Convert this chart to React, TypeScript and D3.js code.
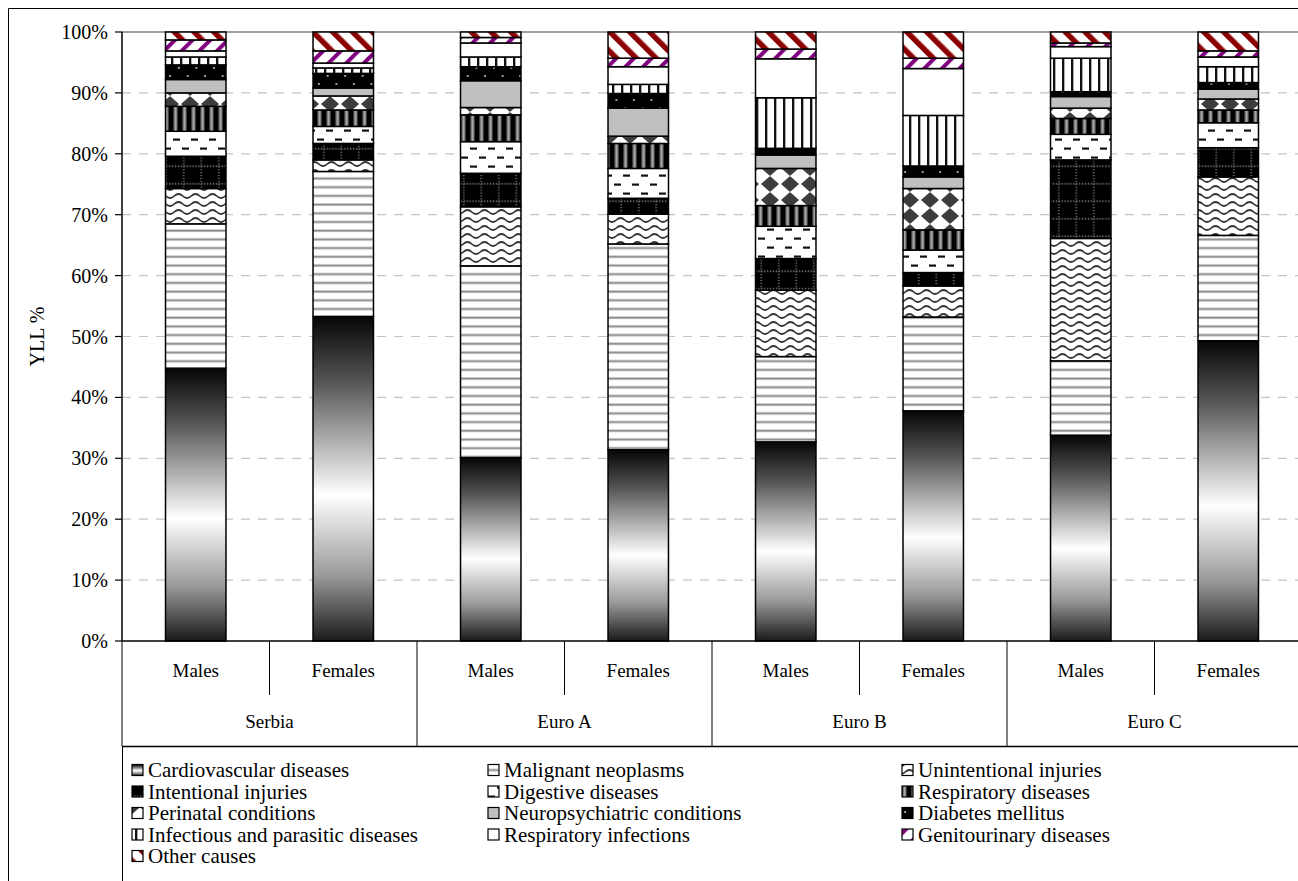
import React from 'react';
import * as d3 from 'd3';

// causes, bottom to top of each bar
const causes = [
  'Cardiovascular diseases',
  'Malignant neoplasms',
  'Unintentional injuries',
  'Intentional injuries',
  'Digestive diseases',
  'Respiratory diseases',
  'Perinatal conditions',
  'Neuropsychiatric conditions',
  'Diabetes mellitus',
  'Infectious and parasitic diseases',
  'Respiratory infections',
  'Genitourinary diseases',
  'Other causes',
];

const groups = ['Serbia', 'Euro A', 'Euro B', 'Euro C'];
const sexes = ['Males', 'Females'];

// YLL % per cause (same order as causes)
const serbiaMales = [44.8, 23.7, 5.8, 5.3, 4.1, 4.1, 2.2, 2.2, 2.4, 1.3, 1.0, 1.8, 1.3];
const serbiaFemales = [53.3, 23.8, 1.9, 2.7, 2.8, 2.7, 2.3, 1.3, 2.4, 0.9, 0.8, 2.0, 3.1];
const euroAMales = [30.1, 31.5, 9.7, 5.5, 5.2, 4.4, 1.2, 4.4, 2.3, 1.6, 2.3, 0.9, 0.9];
const euroAFemales = [31.4, 33.8, 4.9, 2.6, 4.9, 4.1, 1.2, 4.6, 2.4, 1.5, 2.9, 1.4, 4.3];
const euroBMales = [32.7, 14.0, 10.9, 5.2, 5.3, 3.4, 6.1, 2.2, 1.1, 8.3, 6.4, 1.6, 2.8];
const euroBFemales = [37.8, 15.4, 5.1, 2.2, 3.7, 3.3, 6.8, 1.9, 1.8, 8.3, 7.7, 1.7, 4.3];
const euroCMales = [33.8, 12.2, 20.1, 12.9, 4.2, 2.6, 1.7, 1.9, 0.8, 5.5, 1.9, 0.6, 1.8];
const euroCFemales = [49.3, 17.3, 9.6, 4.8, 4.1, 2.1, 1.8, 1.6, 1.1, 2.6, 1.6, 1.0, 3.1];

const yTicks = [0, 10, 20, 30, 40, 50, 60, 70, 80, 90, 100];

const barValues = [
  serbiaMales, serbiaFemales,
  euroAMales, euroAFemales,
  euroBMales, euroBFemales,
  euroCMales, euroCFemales,
];

const W = 1298;
const H = 881;
const plotLeft = 122;
const plotRight = 1302;
const plotTop = 32;
const plotBottom = 641;
const serif = '"Liberation Serif", "Times New Roman", serif';

const Patterns: React.FC = () => (
  <defs>
    <linearGradient id="p0" x1="0" y1="0" x2="0" y2="1">
      <stop offset="0" stopColor="#050505" />
      <stop offset="0.2" stopColor="#555" />
      <stop offset="0.55" stopColor="#ffffff" />
      <stop offset="0.8" stopColor="#999" />
      <stop offset="1" stopColor="#1a1a1a" />
    </linearGradient>
    <pattern id="p1" patternUnits="userSpaceOnUse" width="10" height="8.7">
      <rect width="10" height="8.7" fill="#fff" />
      <rect y="3" width="10" height="3" fill="#d8d8d8" />
      <rect y="3.7" width="10" height="1.6" fill="#8a8a8a" />
    </pattern>
    <pattern id="p2" patternUnits="userSpaceOnUse" width="17" height="8">
      <rect width="17" height="8" fill="#fff" />
      <path d="M-4.25,4 Q0,8 4.25,4 Q8.5,0 12.75,4 Q17,8 21.25,4" fill="none" stroke="#333" strokeWidth="1.7" />
    </pattern>
    <pattern id="p3" patternUnits="userSpaceOnUse" width="17.5" height="17.5">
      <rect width="17.5" height="17.5" fill="#000" />
      <line x1="8.75" y1="0" x2="8.75" y2="17.5" stroke="#8a8a8a" strokeWidth="1.3" strokeDasharray="1.3 1.6" />
      <line x1="0" y1="8.75" x2="17.5" y2="8.75" stroke="#8a8a8a" strokeWidth="1.3" strokeDasharray="1.3 1.6" />
    </pattern>
    <pattern id="p4" patternUnits="userSpaceOnUse" width="18" height="18">
      <rect width="18" height="18" fill="#fff" />
      <rect x="2" y="3.5" width="7" height="2.2" fill="#111" />
      <rect x="11" y="12.5" width="7" height="2.2" fill="#111" />
    </pattern>
    <pattern id="p5" patternUnits="userSpaceOnUse" width="9" height="9">
      <rect width="9" height="9" fill="#000" />
      <rect x="2.5" width="4" height="9" fill="#7a7a7a" />
      <rect x="4" width="1.2" height="9" fill="#a8a8a8" />
    </pattern>
    <pattern id="p6" patternUnits="userSpaceOnUse" width="20" height="16">
      <rect width="20" height="16" fill="#fff" />
      <path d="M10,1 L18,8 L10,15 L2,8 Z" fill="#3c3c3c" stroke="#3c3c3c" strokeWidth="1.5" strokeLinejoin="round" />
    </pattern>
    <pattern id="p7" patternUnits="userSpaceOnUse" width="10" height="10">
      <rect width="10" height="10" fill="#c0c0c0" />
    </pattern>
    <pattern id="p8" patternUnits="userSpaceOnUse" width="17.5" height="16">
      <rect width="17.5" height="16" fill="#000" />
      <rect x="3" y="3" width="1.8" height="1.8" fill="#bbb" />
      <rect x="11.75" y="11" width="1.8" height="1.8" fill="#bbb" />
    </pattern>
    <pattern id="p9" patternUnits="userSpaceOnUse" width="9" height="9">
      <rect width="9" height="9" fill="#fff" />
      <rect x="0" width="2" height="9" fill="#111" />
      <rect x="2" width="0.8" height="9" fill="#999" />
    </pattern>
    <pattern id="p10" patternUnits="userSpaceOnUse" width="10" height="10">
      <rect width="10" height="10" fill="#fff" />
    </pattern>
    <pattern id="p11" patternUnits="userSpaceOnUse" width="12.5" height="12.5" patternTransform="rotate(45)">
      <rect width="12.5" height="12.5" fill="#fff" />
      <rect x="0" width="4" height="12.5" fill="#800080" />
    </pattern>
    <pattern id="p12" patternUnits="userSpaceOnUse" width="14" height="14" patternTransform="rotate(-45)">
      <rect width="14" height="14" fill="#fff" />
      <rect x="0" width="5.5" height="14" fill="#8b0000" />
    </pattern>
  </defs>
);

const App: React.FC = () => {
  const keys = d3.range(barValues.length).map(String);
  const rows = barValues.map((vals, i) => {
    const r: Record<string, number | string> = { key: String(i) };
    causes.forEach((c, j) => { r[c] = vals[j]; });
    return r;
  });
  const series = d3.stack<any>().keys(causes)(rows as any);

  const x = d3.scaleBand<string>().domain(keys).range([plotLeft, plotRight]).paddingInner(0.59).paddingOuter(0.295);
  const xg = d3.scaleBand<string>().domain(groups).range([plotLeft, plotRight]);
  const y = d3.scaleLinear().domain([0, 100]).range([plotBottom, plotTop]);
  const step = x.step();

  const legendCols = [132, 488, 902];
  const legendRows = [770, 791.5, 813, 834.5, 856];

  return (
    <div style={{ position: 'fixed', left: 0, top: 0 }}>
      <svg width={W} height={H} style={{ display: 'block', background: '#fff' }}>
        <Patterns />
        {/* outer frame */}
        <line x1={8.5} y1={8.5} x2={W} y2={8.5} stroke="#000" strokeWidth={1} />
        <line x1={8.5} y1={8.5} x2={8.5} y2={H} stroke="#000" strokeWidth={1} />

        {/* gridlines */}
        {yTicks.filter(t => t > 0 && t < 100).map(t => (
          <line key={t} x1={plotLeft} x2={W} y1={y(t)} y2={y(t)} stroke="#c4c4c4" strokeWidth={1.2} strokeDasharray="9 8" />
        ))}
        <line x1={plotLeft} x2={W} y1={y(100)} y2={y(100)} stroke="#a0a0a0" strokeWidth={2} />

        {/* bars */}
        {series.map((s, si) => (
          <g key={s.key}>
            {s.map((d, i) => (
              <rect
                key={i}
                x={x(keys[i])}
                width={x.bandwidth()}
                y={y(d[1])}
                height={y(d[0]) - y(d[1])}
                fill={`url(#p${si})`}
                stroke="#000"
                strokeWidth={1.5}
              />
            ))}
          </g>
        ))}

        {/* y axis */}
        <line x1={plotLeft} x2={plotLeft} y1={plotTop} y2={plotBottom} stroke="#000" strokeWidth={1.5} />
        {yTicks.map(t => (
          <g key={t}>
            <line x1={plotLeft - 7} x2={plotLeft} y1={y(t)} y2={y(t)} stroke="#000" strokeWidth={1.2} />
            <text x={plotLeft - 14} y={y(t)} dy="0.35em" textAnchor="end" fontFamily={serif} fontSize={20}>{t}%</text>
          </g>
        ))}
        <text transform={`translate(44,${(plotTop + plotBottom) / 2}) rotate(-90)`} textAnchor="middle" fontFamily={serif} fontSize={20}>YLL %</text>

        {/* category axis */}
        <line x1={plotLeft} x2={W} y1={plotBottom} y2={plotBottom} stroke="#000" strokeWidth={1.5} />
        {keys.map((k, i) => {
          const cx = (x(k) as number) + x.bandwidth() / 2;
          const left = cx - step / 2;
          return (
            <g key={k}>
              {i % 2 === 1 && (
                <line x1={left} x2={left} y1={plotBottom} y2={695} stroke="#000" strokeWidth={1} />
              )}
              <text x={cx} y={677} textAnchor="middle" fontFamily={serif} fontSize={19}>{sexes[i % 2]}</text>
            </g>
          );
        })}
        {groups.map(g => (
          <g key={g}>
            <line x1={xg(g)} x2={xg(g)} y1={plotBottom} y2={746} stroke="#000" strokeWidth={1} />
            <text x={(xg(g) as number) + xg.bandwidth() / 2} y={728} textAnchor="middle" fontFamily={serif} fontSize={19}>{g}</text>
          </g>
        ))}

        {/* legend */}
        <line x1={plotLeft} x2={W} y1={746.5} y2={746.5} stroke="#000" strokeWidth={1.5} />
        <line x1={plotLeft + 0.5} x2={plotLeft + 0.5} y1={746} y2={H} stroke="#000" strokeWidth={1} />
        {causes.map((c, i) => {
          const lx = legendCols[i % 3];
          const ly = legendRows[Math.floor(i / 3)];
          return (
            <g key={c}>
              <rect x={lx} y={ly - 5.5} width={11} height={11} fill={`url(#p${i})`} stroke="#000" strokeWidth={1.2} />
              <text x={lx + 16} y={ly} dy="0.35em" fontFamily={serif} fontSize={21}>{c}</text>
            </g>
          );
        })}
      </svg>
    </div>
  );
};

export default App;
